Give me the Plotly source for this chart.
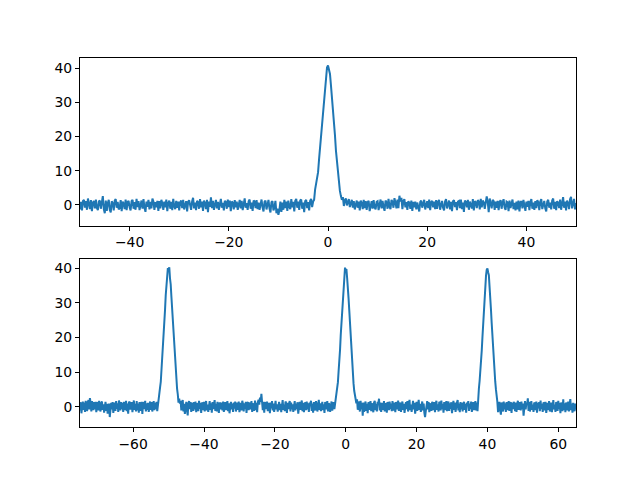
import numpy as np
import plotly.graph_objects as go

# ---- data (values read/estimated from the reference picture) ----
top_x_range = (-50, 50)
top_y = [
    -1.3, 0.9, -1.6, 1.2, 1.5, -0.8, 1.1, -1.4, 1.9, -0.6, -1.2, 1.4, -1.8, 0.7, 1.2, -1.0, 1.6, -0.9, -1.5, 1.0,
    1.3, -1.1, 0.8, 2.6, -1.2, -2.4, 1.3, -1.7, 0.6, 1.5, -1.4, -2.2, 1.1, 0.5, -1.6, 1.3, 1.7, -0.8, 0.9, -1.3,
    -0.9, 1.4, -1.8, 1.0, 0.4, -1.2, 1.6, -1.5, 0.9, 1.2, -0.7, -1.6, 1.1, 1.5, -1.1, 0.8, -1.4, 1.8, -0.6, 1.1,
    -1.5, 0.7, 1.3, -1.1, 1.7, -0.8, -2.0, 1.0, -0.5, 1.5, -1.3, 0.9, -1.0, 1.9, 1.0, -1.4, 0.8, -0.7, 1.2, -1.7,
    1.1, -1.0, 1.5, 0.5, -1.4, 1.0, -0.7, 1.6, -1.8, 0.6, 1.3, -1.1, 0.9, -1.5, 1.8, -0.4, -1.2, 1.2, -0.8, 1.0,
    -1.6, 0.8, 1.3, -0.9, 1.5, -1.3, 0.6, 1.1, -1.9, 0.9, 1.4, -0.8, -1.4, 1.0, 2.1, -1.0, 0.7, -1.5, 1.2, 0.8,
    -1.1, 1.7, -0.7, 1.0, -1.7, 1.3, 0.6, -1.2, 1.5, -2.1, 1.0, -0.5, 2.2, -0.9, 1.2, -1.4, 0.8, 1.5, -1.0, 0.9,
    -1.4, 1.1, 1.8, -0.8, 0.6, -1.6, 1.2, 0.9, -1.1, 1.6, -0.6, 1.3, -1.8, 1.0, 0.7, -1.3, 1.4, -0.7, 1.0, -1.4,
    0.8, 1.5, -1.0, 1.2, -1.5, 0.9, 1.9, -0.8, 0.5, -1.4, 1.1, 1.6, -1.1, 0.7, -1.7, 1.3, 1.0, -0.9, 1.4, -1.2,
    0.7, -1.4, 1.0, 1.6, -0.7, -1.9, 0.9, 1.3, -1.3, 0.6, 1.5, -1.0, -2.2, 0.8, 1.1, -1.6, -0.8, 1.2, -2.4, -1.1,
    -2.9, -1.6, 1.0, -2.0, 0.7, -1.4, 1.5, -0.9, 1.0, -1.7, 1.3, -0.5, -1.2, 1.7, -0.7, 0.9, -1.9, 1.2, 1.8, -0.8,
    1.0, -1.4, 1.3, 1.6, -1.1, 0.7, -2.1, 1.1, 1.5, -0.9, 0.8, -1.6, 1.2, 1.8, -0.6, 1.0, 1.5, 4.5, 5.9, 7.8,
    9.6, 13.4, 16.8, 20.6, 23.9, 28.7, 31.5, 35.6, 37.4, 40.2, 40.8, 39.0, 38.3, 34.9, 31.6, 28.8, 23.7, 20.5, 15.9, 12.6,
    8.2, 5.9, 4.1, 2.6, 1.5, 2.3, -0.3, 1.4, 1.9, -0.1, 1.2, 1.7, -0.6, 0.9, 1.5, -0.8, 1.1, -1.3, 0.8, 1.3,
    -0.8, 1.0, -1.6, 1.3, 0.6, -1.2, 1.5, -0.9, 1.1, -1.4, 0.8, 1.2, -1.8, 0.5, 1.1, -1.1, 1.4, -0.7, -1.3, 0.9,
    1.1, -1.5, 0.7, 1.6, -1.0, 1.2, -0.6, -1.7, 1.3, 0.8, -1.1, 1.8, -0.5, -1.2, 1.5, 0.9, -0.8, 2.0, 0.7, -1.0,
    1.6, -0.9, 2.7, 1.0, 2.1, -1.2, 1.2, 1.7, -0.7, 0.8, -1.4, 1.1, 0.6, -1.1, 1.3, -1.7, 0.9, -0.7, 1.0, -1.3,
    0.7, -1.0, -1.9, 0.9, 1.3, -0.8, 1.0, 1.5, -1.3, 0.5, 1.1, -0.9, 1.6, -1.5, 0.8, 1.2, -0.7, 1.0, -1.2, 1.4,
    -1.1, 0.9, 1.5, -1.4, 0.7, 1.2, -0.8, -1.6, 1.0, 1.7, -1.0, 0.6, 1.3, -1.3, 0.9, -1.8, 1.1, 1.4, -0.6, 0.8,
    -1.5, 1.0, 1.2, -0.9, 1.6, -1.2, 0.7, -2.0, 1.3, 0.9, -0.7, 1.5, -1.4, 1.0, -0.5, -1.0, 1.7, -1.6, 1.1, 0.8,
    -0.9, 1.4, 1.0, -1.3, 1.8, -0.7, 1.3, 0.8, -1.1, 1.6, 2.5, 0.9, -2.1, 1.9, 0.7, -1.0, 1.5, 1.1, -1.4, 1.0,
    -0.8, 1.2, -1.5, 0.9, 1.4, -1.1, 0.7, 1.7, -0.7, -1.4, 1.0, 0.8, -1.8, 1.3, -0.9, 1.1, 1.6, -1.2, 0.6, -1.6,
    1.0, -1.3, 1.3, -1.9, 0.8, 1.1, -1.0, 1.5, -0.7, -1.7, 1.0, -0.5, 1.2, -1.5, 0.9, 1.7, -1.1, 0.7, -1.4, 1.1,
    -0.9, 1.4, 0.8, -1.5, 1.0, 1.7, -1.2, 0.6, 1.2, -1.0, -1.9, 1.0, 1.5, -0.8, 0.7, -1.3, 1.3, 1.9, -1.1, 0.9,
    -1.5, 1.1, 0.7, -0.9, 1.6, -1.4, 1.0, 2.3, -0.8, 1.0, -1.6, 1.3, 0.6, -1.2, 1.7, 2.4, -1.0, 0.9, 1.8, -1.3,
    0.6,
]

bottom_x_range = (-75, 65)
bottom_y = [
    -1.1, 1.3, -1.9, 0.8, 1.5, -0.9, 1.2, -1.5, 1.7, 0.6, -1.3, 1.3, 1.9, -0.8, 2.5, 1.0, -1.4, 1.6, 0.5, -1.0,
    1.3, -0.7, 1.4, -1.6, 0.9, 1.3, -1.1, 1.7, -0.5, -1.4, 1.1, 1.5, -0.9, 0.7, -1.7, 1.2, 1.4, -1.2, 0.8, -2.0,
    -1.0, 0.9, -3.0, -1.6, 1.1, -0.8, 1.3, -1.8, 0.7, 1.2, -1.2, 1.6, -0.6, 1.0, -1.5, 1.8, 0.8, -1.1, 1.3, -0.7,
    1.1, -1.5, 1.4, 0.6, -1.0, 1.7, -1.3, 0.9, -2.0, 1.1, 1.5, -0.8, 0.5, 1.3, -1.6, 1.0, 1.8, -0.9, 0.8, -1.4,
    1.6, -1.1, 0.9, -1.7, 1.3, 0.5, -1.2, 1.4, -2.1, 0.8, 1.3, -0.7, 1.7, -1.4, 1.0, -0.9, 1.1, -1.5, 0.7, 1.5,
    -0.9, 1.3, -1.4, 0.8, 1.6, -1.0, 1.1, -0.7, 1.4, -1.3, 0.9, 1.9, 3.9, 5.6, 7.2, 10.3, 12.8, 16.7, 20.1, 24.6,
    28.0, 32.3, 35.0, 38.2, 40.1, 39.5, 40.3, 37.1, 35.4, 31.8, 28.5, 24.0, 20.7, 16.1, 13.3, 9.7, 7.6, 5.2, 3.6, 1.2,
    2.3, 0.9, 1.7, -1.1, 1.3, 1.9, -1.4, 0.8, -2.1, 1.2, 1.4, -0.9, -2.5, 1.0, 1.6, -0.7, 1.3, -1.5, 1.1, 0.7,
    -1.2, 1.3, -0.8, 1.5, -1.6, 1.0, 0.7, -1.3, 1.7, -0.6, 1.1, -1.8, 1.2, 0.8, -1.0, 1.4, -1.4, 0.9, 1.6, -1.1,
    0.6, -1.5, 1.2, 1.6, -0.9, 1.0, -1.7, 1.3, -0.7, 1.1, 1.9, -1.2, 0.8, -1.4, 1.4, -0.5, -1.8, 1.2, 0.9, -0.8,
    1.2, -1.1, 1.5, -1.5, 0.8, 1.3, -1.0, 0.7, 1.6, -1.3, 1.0, -1.9, 1.1, 1.4, -0.8, 0.9, -1.5, 1.2, -0.6, 1.5,
    -1.4, 0.9, 1.2, -0.9, 1.5, -1.6, -0.5, 1.1, -1.1, 1.7, 0.8, -1.4, 1.0, -0.7, 1.4, -1.8, 1.1, 1.3, -1.0, 0.7,
    1.2, -0.8, 1.6, -1.5, 0.9, 0.6, -1.2, 1.8, -0.9, 1.1, -1.6, 1.3, 2.0, 0.6, 2.6, 1.4, 3.7, 1.2, -1.0, 1.4,
    -1.7, 1.0, 1.3, -0.7, 1.5, -1.3, 0.8, 1.1, -1.9, 1.2, -0.5, 1.6, -1.1, 0.9, -1.5, 1.1, 1.7, -0.8, 0.7, -1.4,
    1.1, 1.4, -1.0, 0.8, -1.6, 1.3, 1.9, -0.9, 0.6, -1.3, 1.5, 1.0, -1.8, 1.1, -0.7, 0.9, 1.6, -1.4, 1.2, -0.8,
    0.7, -1.5, 1.1, 1.6, -1.1, 0.9, -0.6, 1.3, -2.0, 1.0, 1.4, -0.9, 0.8, 1.8, -1.3, 1.1, -1.6, 0.6, 1.3, -1.0,
    1.5, -0.8, 1.0, -1.5, 1.2, 0.7, 1.7, -1.2, 0.9, -1.7, 1.3, -0.5, -1.1, 1.6, 0.8, -1.4, 1.1, 2.0, -0.9, 1.0,
    -1.3, 1.1, 1.4, -1.0, 0.7, -1.8, 1.3, 0.9, -0.8, 1.6, -1.4, 1.0, 0.6, -1.5, 1.2, 1.5, -1.1, 0.8, 1.3, -0.7,
    0.9, 1.5, 3.5, 5.8, 7.1, 10.4, 12.9, 16.5, 20.8, 24.1, 28.6, 31.7, 35.5, 37.6, 40.2, 39.4, 39.8, 37.2, 35.0, 31.4,
    27.9, 23.8, 19.6, 16.2, 12.5, 9.3, 6.8, 4.6, 3.2, 1.9, 1.0, 2.1, -0.9, 1.5, 0.7, -1.4, 1.7, -0.8, 1.1, -2.6,
    1.2, -1.5, 0.9, 1.5, -1.2, 0.8, -1.9, 1.3, 0.7, -0.9, 1.6, -1.3, 1.0, -0.5, -1.6, 1.2, 1.7, -1.0, 0.8, -1.4,
    1.4, 0.9, 2.3, -1.1, 1.2, -1.5, 0.8, 1.1, -0.9, 1.6, -1.4, 1.0, 0.6, -1.7, 1.3, 0.7, -1.0, 1.5, -0.7, 0.9,
    -1.3, 1.6, -0.5, -1.1, 1.2, -1.6, 1.3, 0.9, -0.8, 1.8, -1.2, 0.7, 1.2, -1.5, 1.0, 1.5, -0.9, 0.8, -1.8, 1.1,
    1.3, -0.7, 1.6, -1.4, 0.9, 2.0, -1.0, 0.6, -1.5, 1.2, 1.7, -0.8, 1.1, -2.0, 0.7, 1.4, -1.2, 1.0, 2.0, -0.9,
    0.8, -1.5, 1.2, 1.5, -1.1, 0.9, -1.8, -3.0, -1.3, 1.1, 1.6, -0.8, 1.3, -1.6, 0.7, 1.0, -1.2, 1.4, 0.6, -1.0,
    1.3, -1.6, 0.9, 1.7, -0.9, 0.7, -1.4, 1.4, 1.1, -1.1, 1.8, -0.7, 0.8, -1.7, 1.3, -0.5, -1.0, 1.6, -1.3, 0.9,
    1.5, -1.2, 1.0, -0.6, 1.3, -1.9, 0.8, 1.7, -0.9, 1.2, -1.5, 0.7, 1.2, 1.9, -1.1, 0.9, -1.6, 1.3, -0.8, 1.1,
    -1.4, 1.0, 1.4, -0.9, 0.8, -1.7, 1.2, 0.6, 1.6, -1.2, 0.9, -0.7, 1.5, -1.5, 1.1, 1.3, -1.0, 0.7, 1.6, -1.1,
    1.2, -1.3, 3.8, 5.4, 7.5, 9.9, 13.1, 16.3, 20.2, 24.5, 27.8, 32.0, 34.8, 37.9, 39.6, 40.0, 38.9, 38.0, 34.7, 32.2,
    28.1, 24.2, 20.4, 16.0, 12.7, 10.1, 7.3, 5.0, 3.4, 1.4, -1.6, 0.9, 1.4, -1.1, -2.3, 1.2, 0.7, -1.4, 1.5, -0.8,
    1.0, -1.5, 1.3, 0.6, -1.0, 1.6, -1.2, 0.8, 1.3, -1.8, 1.1, -0.7, 1.4, 0.9, -1.3, 1.2, -1.5, 0.7, 1.7, -0.9,
    0.8, 1.3, -1.1, 1.5, -0.7, 0.9, -2.6, 1.1, 1.6, -0.8, 1.2, 0.7, 2.4, -1.2, 1.4, -1.4, 1.0, 1.6, -0.9, 0.6,
    -1.5, 1.2, 0.9, -1.0, 1.5, -1.7, 1.1, -0.5, 1.3, -1.3, 1.8, -0.7, 0.8, -1.5, 1.2, 1.0, -1.1, 1.4, -1.8, 0.7,
    1.1, -0.9, 1.6, -1.4, 0.8, 1.2, -1.6, 1.0, 1.9, -0.8, 0.6, -1.5, 1.3, 0.9, -1.2, 1.7, -0.7, 1.1, -1.9, 1.2,
    0.7, -1.3, 2.1, -0.9, 1.0, -1.6, 1.2, 0.6, -1.1, 1.5, -1.4, 0.8, 2.2, -1.0, 0.9, -1.7, 1.1, -0.7, -1.3, 0.9,
    -0.9,
]

top_xticks = [-40, -20, 0, 20, 40]
bottom_xticks = [-60, -40, -20, 0, 20, 40, 60]
yticks = [0, 10, 20, 30, 40]

top_x = np.linspace(top_x_range[0], top_x_range[1], len(top_y))
bottom_x = np.linspace(bottom_x_range[0], bottom_x_range[1], len(bottom_y))

LINE = "#1f77b4"
FONT = dict(family="DejaVu Sans", size=13.9, color="black")

fig = go.Figure()
fig.add_trace(go.Scatter(x=top_x, y=top_y, mode="lines",
                         line=dict(color=LINE, width=2), xaxis="x", yaxis="y",
                         showlegend=False))
fig.add_trace(go.Scatter(x=bottom_x, y=bottom_y, mode="lines",
                         line=dict(color=LINE, width=2), xaxis="x2", yaxis="y2",
                         showlegend=False))

axis_common = dict(showline=True, linecolor="black", linewidth=1, mirror=True,
                   ticks="outside", ticklen=4, tickwidth=1, tickcolor="black",
                   showgrid=False, zeroline=False, tickfont=FONT)

fig.update_layout(
    width=640, height=480,
    margin=dict(l=0, r=0, t=0, b=0),
    paper_bgcolor="white", plot_bgcolor="white",
    xaxis=dict(domain=[0.125, 0.9], anchor="y", range=list(top_x_range),
               tickvals=top_xticks, **axis_common),
    yaxis=dict(domain=[0.53, 0.88], anchor="x", range=[-6.03, 43.1],
               tickvals=yticks, **axis_common),
    xaxis2=dict(domain=[0.125, 0.9], anchor="y2", range=list(bottom_x_range),
                tickvals=bottom_xticks, **axis_common),
    yaxis2=dict(domain=[0.11, 0.46], anchor="x2", range=[-5.93, 42.64],
                tickvals=yticks, **axis_common),
)

fig.write_html("out.html")
